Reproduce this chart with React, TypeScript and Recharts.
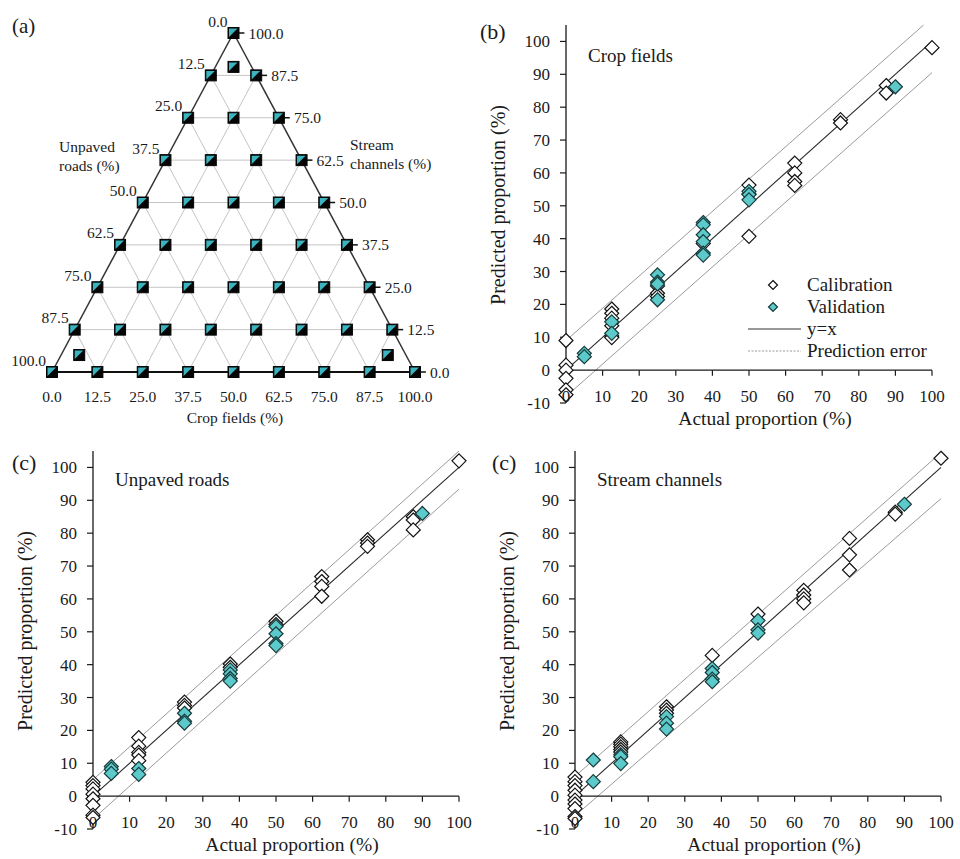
import React from 'react';
import { ScatterChart, Scatter, XAxis, YAxis, ReferenceLine, ReferenceDot, Legend } from 'recharts';

const FONT = '"Liberation Serif", "Times New Roman", Times, serif';
const INK = '#1a1a1a';
const TEAL = '#5cc9ca';
const TEAL_EDGE = '#173a3b';
const SQUARE_TEAL = '#3bb4c0';
const GRID = '#c4c4c4';
const BAND = '#9a9a9a';

type Pair = [number, number];

// (a) mixture design
const mixLevels = [0, 12.5, 25, 37.5, 50, 62.5, 75, 87.5, 100];
const mixLabels = ['0.0', '12.5', '25.0', '37.5', '50.0', '62.5', '75.0', '87.5', '100.0'];
const validationMixes = [
  { crop: 5, stream: 90 },
  { crop: 5, stream: 5 },
  { crop: 90, stream: 5 },
];

// (b), (c) predicted vs actual
const xTicks = [0, 10, 20, 30, 40, 50, 60, 70, 80, 90, 100];
const yTicks = [-10, 0, 10, 20, 30, 40, 50, 60, 70, 80, 90, 100];

const cropCalibration: Pair[] = [
  [0, 9], [0, 1.5], [0, 0], [0, -2.5], [0, -6], [0, -7.5],
  [12.5, 18.6], [12.5, 17.3], [12.5, 15.8], [12.5, 13.5], [12.5, 10.4], [12.5, 9.9],
  [25, 25.6], [25, 23.4], [25, 22.4],
  [37.5, 38.5],
  [50, 56.3], [50, 53.6], [50, 40.7],
  [62.5, 63], [62.5, 60], [62.5, 57.4], [62.5, 56.2],
  [75, 76.2], [75, 75.2],
  [87.5, 86.6], [87.5, 84.3],
  [100, 98.1],
];
const cropValidation: Pair[] = [
  [5, 5.1], [5, 4.1],
  [12.5, 14.7], [12.5, 11.2],
  [25, 29], [25, 26.8], [25, 26.2], [25, 21.4],
  [37.5, 44.9], [37.5, 44.2], [37.5, 41.2], [37.5, 39.1], [37.5, 35.6], [37.5, 35],
  [50, 54.4], [50, 53.4], [50, 51.8],
  [90, 86.2],
];

const roadsCalibration: Pair[] = [
  [0, 4.2], [0, 3.2], [0, 2.2], [0, 0.6], [0, -0.8], [0, -2.8], [0, -5.8], [0, -6.5],
  [12.5, 17.8], [12.5, 15.2], [12.5, 13.3], [12.5, 12.5], [12.5, 10.8],
  [25, 28.6], [25, 27.6], [25, 26.8],
  [37.5, 40.2], [37.5, 39.2],
  [50, 53.2], [50, 52.2],
  [62.5, 66.8], [62.5, 65.3], [62.5, 63.8], [62.5, 60.8],
  [75, 78], [75, 77], [75, 76],
  [87.5, 85], [87.5, 84], [87.5, 81],
  [100, 102],
];
const roadsValidation: Pair[] = [
  [5, 9], [5, 8.2], [5, 6.9],
  [12.5, 8.4], [12.5, 6.6],
  [25, 25.2], [25, 22.8], [25, 22.2],
  [37.5, 38.4], [37.5, 37.2], [37.5, 35.8], [37.5, 35],
  [50, 51.6], [50, 49.4], [50, 46.4], [50, 45.8],
  [90, 86],
];

const streamCalibration: Pair[] = [
  [0, 5.8], [0, 4.4], [0, 3.2], [0, 1.8], [0, 0.3], [0, -1.2], [0, -2.4], [0, -3.8], [0, -6.2], [0, -6.8],
  [12.5, 16.5], [12.5, 15.8], [12.5, 15], [12.5, 14.2], [12.5, 13.4],
  [25, 27.2], [25, 26.2], [25, 25.2],
  [37.5, 42.8],
  [50, 55.4],
  [62.5, 62.6], [62.5, 61.2], [62.5, 60], [62.5, 58.8],
  [75, 78.4], [75, 73.4], [75, 68.8],
  [87.5, 86.4], [87.5, 85.8],
  [100, 102.8],
];
const streamValidation: Pair[] = [
  [5, 11], [5, 4.4],
  [12.5, 12.6], [12.5, 12], [12.5, 9.9],
  [25, 24.2], [25, 22.2], [25, 20.4],
  [37.5, 38.8], [37.5, 37.6], [37.5, 35.6], [37.5, 34.8],
  [50, 53.4], [50, 50.6], [50, 49.6],
  [90, 88.8],
];

// prediction error lines, end points
const cropUpper: Pair[] = [[0, 9], [97.7, 105]];
const cropLower: Pair[] = [[0, -8], [100, 90.5]];
const roadsUpper: Pair[] = [[0, 5], [100, 105]];
const roadsLower: Pair[] = [[0, -7], [100, 93.4]];
const streamUpper: Pair[] = [[0, 6], [100, 104.5]];
const streamLower: Pair[] = [[0, -6], [100, 90.5]];

const legendRows = ['Calibration', 'Validation', 'y=x', 'Prediction error'];

const toPoints = (pairs: Pair[]) => pairs.map(([x, y]) => ({ x, y }));

/* ---------- markers ---------- */

const diamondPath = (cx: number, cy: number, h: number) =>
  `${cx},${cy - h} ${cx + h},${cy} ${cx},${cy + h} ${cx - h},${cy}`;

const OpenDiamond = (p: any) => (
  <polygon points={diamondPath(p.cx, p.cy, 7)} fill="#fff" stroke="#111" strokeWidth={1.2} />
);

const FilledDiamond = (p: any) => (
  <polygon points={diamondPath(p.cx, p.cy, 7)} fill={TEAL} stroke={TEAL_EDGE} strokeWidth={1.2} />
);

const SplitSquare = (p: any) => {
  const { cx, cy } = p;
  const h = 5.5;
  return (
    <g>
      <rect x={cx - h} y={cy - h} width={2 * h} height={2 * h} fill="#050505" stroke="#050505" strokeWidth={1} />
      <polygon
        points={`${cx - h + 1},${cy - h + 1} ${cx + h - 1.5},${cy - h + 1} ${cx - h + 1},${cy + h - 1.5}`}
        fill={SQUARE_TEAL}
      />
    </g>
  );
};

/* ---------- (a) ternary ---------- */

const toXY = (crop: number, stream: number) => ({ x: crop + stream / 2, y: stream });

const TernaryPanel = () => {
  const calib = mixLevels.flatMap((s) =>
    mixLevels.filter((c) => c + s <= 100).map((c) => toXY(c, s)),
  );
  const valid = validationMixes.map((m) => toXY(m.crop, m.stream));
  const inner = mixLevels.slice(1, -1);

  const rightLabels = mixLevels.map((s, i) => ({ ...toXY(100 - s, s), text: mixLabels[i] }));
  const leftLabels = mixLevels.map((s, i) => ({ ...toXY(0, s), text: mixLabels[mixLabels.length - 1 - i] }));
  const bottomLabels = mixLevels.map((c, i) => ({ ...toXY(c, 0), text: mixLabels[i] }));

  const txt = { fontSize: 15.5, fill: INK };

  return (
    <div style={{ position: 'absolute', left: 0, top: 0 }}>
      <ScatterChart width={470} height={440} margin={{ top: 33, right: 55, bottom: 68, left: 52 }}>
        <XAxis type="number" dataKey="x" domain={[0, 100]} hide />
        <YAxis type="number" dataKey="y" domain={[0, 100]} hide />

        {inner.map((l) => (
          <ReferenceLine key={`h${l}`} segment={[toXY(0, l), toXY(100 - l, l)]} stroke={GRID} strokeWidth={1} ifOverflow="visible" />
        ))}
        {inner.map((l) => (
          <ReferenceLine key={`c${l}`} segment={[toXY(l, 0), toXY(l, 100 - l)]} stroke={GRID} strokeWidth={1} ifOverflow="visible" />
        ))}
        {inner.map((l) => (
          <ReferenceLine key={`r${l}`} segment={[toXY(100 - l, 0), toXY(0, 100 - l)]} stroke={GRID} strokeWidth={1} ifOverflow="visible" />
        ))}

        <ReferenceLine segment={[toXY(0, 0), toXY(0, 100)]} stroke="#333" strokeWidth={1.5} ifOverflow="visible" />
        <ReferenceLine segment={[toXY(100, 0), toXY(0, 100)]} stroke="#333" strokeWidth={1.5} ifOverflow="visible" />
        <ReferenceLine segment={[toXY(0, 0), toXY(100, 0)]} stroke="#111" strokeWidth={2} ifOverflow="visible" />
        {mixLevels.map((s) => {
          const p = toXY(100 - s, s);
          return (
            <ReferenceLine key={`t${s}`} segment={[p, { x: p.x + 3, y: p.y }]} stroke="#111" strokeWidth={1.5} ifOverflow="visible" />
          );
        })}

        <Scatter data={calib} shape={SplitSquare} isAnimationActive={false} />
        <Scatter data={valid} shape={SplitSquare} isAnimationActive={false} />

        <Scatter
          data={rightLabels}
          isAnimationActive={false}
          shape={(p: any) => (
            <text x={p.cx + 15} y={p.cy} dominantBaseline="central" {...txt}>{p.payload.text}</text>
          )}
        />
        <Scatter
          data={leftLabels}
          isAnimationActive={false}
          shape={(p: any) => (
            <text x={p.cx - 6} y={p.cy - 12} textAnchor="end" dominantBaseline="central" {...txt}>{p.payload.text}</text>
          )}
        />
        <Scatter
          data={bottomLabels}
          isAnimationActive={false}
          shape={(p: any) => (
            <text x={p.cx} y={p.cy + 24} textAnchor="middle" dominantBaseline="central" {...txt}>{p.payload.text}</text>
          )}
        />

        <ReferenceDot
          x={0}
          y={100}
          r={0}
          ifOverflow="visible"
          label={{
            content: (props: any) => {
              const vb = props.viewBox || { x: 52, y: 33 };
              const x0 = vb.x;
              const y0 = vb.y;
              return (
                <g fill={INK}>
                  <text x={x0 - 40} y={y0} fontSize={21}>(a)</text>
                  <text x={x0 + 7} y={y0 + 119} fontSize={15.5}>Unpaved</text>
                  <text x={x0 + 7} y={y0 + 138} fontSize={15.5}>roads (%)</text>
                  <text x={x0 + 298} y={y0 + 117} fontSize={15.5}>Stream</text>
                  <text x={x0 + 298} y={y0 + 136} fontSize={15.5}>channels (%)</text>
                  <text x={x0 + 183} y={y0 + 390} fontSize={15.5} textAnchor="middle">Crop fields (%)</text>
                </g>
              );
            },
          }}
        />
      </ScatterChart>
    </div>
  );
};

/* ---------- (b), (c) scatter panels ---------- */

const XTickLabel = (props: any) => {
  const { x, y, payload } = props;
  return (
    <text x={x} y={y - 1} textAnchor="middle" fontSize={17} fill={INK}>
      {payload.value}
    </text>
  );
};

const LegendBox = () => (
  <div style={{ fontFamily: FONT, fontSize: 19, color: INK, lineHeight: '22px' }}>
    {legendRows.map((label, i) => (
      <div key={label} style={{ display: 'flex', alignItems: 'center', height: 22 }}>
        <svg width={62} height={22} style={{ display: 'block' }}>
          {i === 0 && <polygon points={diamondPath(28, 11, 4.5)} fill="#fff" stroke="#111" strokeWidth={1.2} />}
          {i === 1 && <polygon points={diamondPath(28, 11, 4.5)} fill={TEAL} stroke={TEAL_EDGE} strokeWidth={1.2} />}
          {i === 2 && <line x1={3} y1={11} x2={56} y2={11} stroke="#333" strokeWidth={1} />}
          {i === 3 && <line x1={3} y1={11} x2={56} y2={11} stroke={BAND} strokeWidth={1} strokeDasharray="2 1.5" />}
        </svg>
        <span>{label}</span>
      </div>
    ))}
  </div>
);

interface PanelProps {
  left: number;
  top: number;
  width: number;
  height: number;
  margin: { top: number; right: number; bottom: number; left: number };
  tag: string;
  tagX: number;
  tagDy: number;
  title: string;
  titleDy: number;
  calibration: Pair[];
  validation: Pair[];
  upper: Pair[];
  lower: Pair[];
  legend?: boolean;
}

const ProportionPanel = (props: PanelProps) => {
  const { left, top, width, height, margin, tag, tagX, tagDy, title, titleDy, calibration, validation, upper, lower, legend } = props;

  const frameText = (lp: any) => {
    const vb = lp.viewBox || { x: margin.left, y: margin.top, width: 90, height: 378 };
    const px = vb.x + vb.width;
    const py = vb.y;
    const tx = px - 68;
    const cy = py + vb.height / 2 - 9;
    return (
      <g fill={INK}>
        <text x={tx} y={cy} transform={`rotate(-90, ${tx}, ${cy})`} textAnchor="middle" dominantBaseline="central" fontSize={20}>
          Predicted proportion (%)
        </text>
        <text x={tagX} y={py + tagDy} fontSize={22}>{tag}</text>
        <text x={px + 22} y={py + titleDy} fontSize={19}>{title}</text>
      </g>
    );
  };

  const xTitle = (lp: any) => {
    const vb = lp.viewBox || { x: 96, y: 403, width: 366 };
    return (
      <text x={vb.x + vb.width / 2 + 16} y={vb.y + 22} textAnchor="middle" fontSize={19.5} fill={INK}>
        Actual proportion (%)
      </text>
    );
  };

  return (
    <div style={{ position: 'absolute', left, top }}>
      <ScatterChart width={width} height={height} margin={margin}>
        <XAxis
          type="number"
          dataKey="x"
          domain={[0, 100]}
          ticks={xTicks}
          interval={0}
          axisLine={false}
          tickLine={false}
          tickSize={0}
          tickMargin={0}
          tick={XTickLabel}
          height={30}
          label={{ content: xTitle }}
        />
        <YAxis
          type="number"
          dataKey="y"
          domain={[-10, 105]}
          ticks={yTicks}
          interval={0}
          width={90}
          axisLine={{ stroke: INK, strokeWidth: 1.3 }}
          tickLine={{ stroke: INK, strokeWidth: 1.2 }}
          tickSize={6}
          tickMargin={10}
          tick={{ fontSize: 17, fill: INK }}
          label={{ content: frameText }}
        />

        <ReferenceLine segment={toPoints(upper)} stroke={BAND} strokeWidth={1} ifOverflow="visible" />
        <ReferenceLine segment={toPoints(lower)} stroke={BAND} strokeWidth={1} ifOverflow="visible" />
        <ReferenceLine segment={[{ x: 0, y: 0 }, { x: 100, y: 100 }]} stroke="#2a2a2a" strokeWidth={1.1} ifOverflow="visible" />

        <ReferenceLine segment={[{ x: 0, y: 0 }, { x: 100, y: 0 }]} stroke={INK} strokeWidth={1.3} ifOverflow="visible" />
        {xTicks.map((t) => (
          <ReferenceLine key={t} segment={[{ x: t, y: 0 }, { x: t, y: -1.7 }]} stroke={INK} strokeWidth={1.2} ifOverflow="visible" />
        ))}

        <Scatter name="Calibration" data={toPoints(calibration)} shape={OpenDiamond} isAnimationActive={false} />
        <Scatter name="Validation" data={toPoints(validation)} shape={FilledDiamond} isAnimationActive={false} />

        {legend && (
          <Legend
            layout="horizontal"
            verticalAlign="middle"
            align="center"
            content={LegendBox}
            wrapperStyle={{ left: 275, top: 274, width: 210, height: 88 }}
          />
        )}
      </ScatterChart>
    </div>
  );
};

export default function App() {
  return (
    <div
      style={{
        position: 'absolute',
        left: 0,
        top: 0,
        width: 960,
        height: 859,
        background: '#fff',
        fontFamily: FONT,
        color: INK,
        overflow: 'hidden',
      }}
    >
      <TernaryPanel />
      <ProportionPanel
        left={470}
        top={0}
        width={490}
        height={440}
        margin={{ top: 25, right: 28, bottom: 7, left: 6 }}
        tag="(b)"
        tagX={10}
        tagDy={14}
        title="Crop fields"
        titleDy={37}
        calibration={cropCalibration}
        validation={cropValidation}
        upper={cropUpper}
        lower={cropLower}
        legend
      />
      <ProportionPanel
        left={0}
        top={440}
        width={480}
        height={419}
        margin={{ top: 11, right: 21, bottom: 0, left: 3 }}
        tag="(c)"
        tagX={12}
        tagDy={19}
        title="Unpaved roads"
        titleDy={35}
        calibration={roadsCalibration}
        validation={roadsValidation}
        upper={roadsUpper}
        lower={roadsLower}
      />
      <ProportionPanel
        left={480}
        top={440}
        width={480}
        height={419}
        margin={{ top: 11, right: 19, bottom: 0, left: 5 }}
        tag="(c)"
        tagX={12}
        tagDy={19}
        title="Stream channels"
        titleDy={35}
        calibration={streamCalibration}
        validation={streamValidation}
        upper={streamUpper}
        lower={streamLower}
      />
    </div>
  );
}
